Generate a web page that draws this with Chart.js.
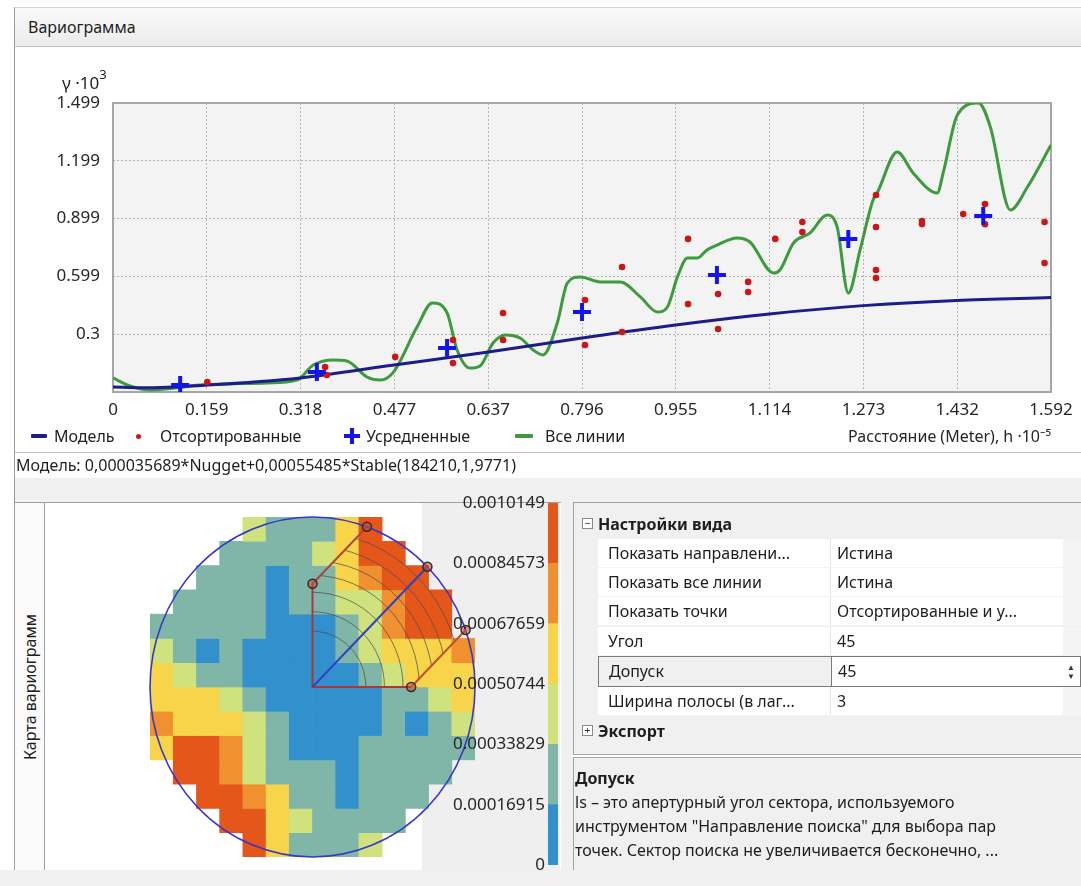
<!DOCTYPE html>
<html>
<head>
<meta charset="utf-8">
<script src="https://cdn.jsdelivr.net/npm/chart.js@4.4.1/dist/chart.umd.min.js"></script>
<style>
    body { margin: 0; width: 1081px; height: 886px; position: relative; overflow: hidden; background: #fff;
           font-family: "Noto Sans", "Segoe UI", sans-serif; color: #1e1e1e; }
    .abs { position: absolute; box-sizing: border-box; }
    #hdr { left: 14px; top: 7px; width: 1067px; height: 40px; background: linear-gradient(#fafafa, #ebebeb);
           border-top: 1px solid #d6d6d6; border-bottom: 1px solid #c2c2c2; border-left: 1px solid #9c9c9c;
           font-size: 16px; line-height: 38px; padding-left: 13px; }
    #topBorder { left: 14px; top: 47px; width: 1px; height: 431px; background: #9c9c9c; }
    #vario { left: 14px; top: 47px; }
    #gammaTitle { left: 62px; top: 66px; font-size: 17px; line-height: 22px; white-space: nowrap; }
    #gammaTitle sup { font-size: 13px; position: relative; top: -3px; }
    .lg { top: 425px; font-size: 16px; line-height: 22px; white-space: nowrap; }
    .lgDash { height: 4px; border-radius: 1px; }
    #modelRow { left: 14px; top: 452px; width: 1067px; height: 26px; border-top: 1px solid #bdbdbd;
                border-left: 1px solid #9c9c9c; font-size: 16px; line-height: 24px; padding-left: 1px; white-space: nowrap; }
    #band { left: 14px; top: 478px; width: 1067px; height: 25px; background: #f0f0f0; border-left: 1px solid #9c9c9c; }
    #bottomBand { left: 0; top: 870px; width: 1081px; height: 16px; background: #f0f0f0; }
    #mapPanel { left: 14px; top: 502px; width: 547px; height: 369px; border: 1px solid #a0a0a0; border-right: none; background: #fff; }
    #tab { left: 14px; top: 502px; width: 31px; height: 369px; border: 1px solid #a0a0a0; background: #fbfbfb; }
    #tabText { left: 14px; top: 502px; width: 31px; height: 369px; }
    #tabText span { position: absolute; left: 50%; top: 50%; transform: translate(-50%, -50%) rotate(-90deg);
                    font-size: 16px; white-space: nowrap; }
    #map { left: 44px; top: 503px; }
    #scale { left: 420px; top: 490px; z-index: 2; }
    #splitter { left: 561px; top: 478px; width: 12px; height: 392px; background: #f0f0f0; }
    #props { left: 573px; top: 502px; width: 508px; height: 368px; border-left: 1px solid #a0a0a0; border-top: 1px solid #a0a0a0; background: #f0f0f0; }
    .cat { left: 573px; height: 30px; width: 508px; font-size: 16px; font-weight: bold; line-height: 30px; padding-left: 25px; white-space: nowrap; }
    .box { left: 582px; width: 11px; height: 11px; border: 1px solid #8a8a8a; background: #fff; font-size: 11px; line-height: 8px; text-align: center; color: #333; }
    .row { left: 598px; height: 29px; width: 483px; background: #fff; border-bottom: 1px solid #f3f3f3; font-size: 16px; line-height: 28px; white-space: nowrap; }
    .row .n { position: absolute; left: 10px; }
    .row .v { position: absolute; left: 239px; }
    .row .div { position: absolute; left: 232px; top: 0; width: 1px; height: 100%; background: #e4e4e4; }
    .row .end { position: absolute; left: 465px; top: 0; width: 18px; height: 100%; background: #f4f4f4; }
    .sel { border: 1px solid #7a7a7a; background: #f0f0f0; }
    .sel .val { position: absolute; left: 232px; top: 0; right: 0; height: 100%; background: #fff; border-left: 1px solid #7a7a7a; }
    #sep { left: 573px; top: 754px; width: 508px; height: 4px; border-top: 1px solid #a8a8a8; border-bottom: 1px solid #a8a8a8; background: #fff; }
    #desc { left: 575px; top: 766px; font-size: 16px; line-height: 24px; white-space: nowrap; }
</style>
</head>
<body>
<div class="abs" id="hdr">Вариограмма</div>
<div class="abs" id="topBorder"></div>
<canvas class="abs" id="vario" width="1067" height="406"></canvas>
<div class="abs" id="gammaTitle">γ ·10<sup>3</sup></div>

<div class="abs lgDash" style="left:31px; top:434px; width:16px; background:#1c1c8c;"></div>
<div class="abs lg" style="left:54px;">Модель</div>
<div class="abs" style="left:136px; top:434px; width:5px; height:5px; border-radius:50%; background:#cc1616;"></div>
<div class="abs lg" style="left:160px;">Отсортированные</div>
<div class="abs" style="left:344px; top:434px; width:16px; height:4px; background:#1414f0;"></div>
<div class="abs" style="left:350px; top:428px; width:4px; height:16px; background:#1414f0;"></div>
<div class="abs lg" style="left:366px;">Усредненные</div>
<div class="abs lgDash" style="left:515px; top:434px; width:18px; background:#3d9a3d;"></div>
<div class="abs lg" style="left:545px;">Все линии</div>

<div class="abs" id="modelRow">Модель: 0,000035689*Nugget+0,00055485*Stable(184210,1,9771)</div>
<div class="abs" id="band"></div>

<div class="abs" id="mapPanel"></div>
<div class="abs" id="tab"></div>
<div class="abs" id="tabText"><span>Карта вариограмм</span></div>
<canvas class="abs" id="map" width="516" height="367"></canvas>
<div class="abs" id="splitter"></div>

<div class="abs" id="props"></div>
<div class="abs cat" style="top:509px;">Настройки вида</div>
<div class="abs box" style="top:518px;">−</div>
<div class="abs row" style="top:539px;"><span class="n">Показать направлени...</span><span class="div"></span><span class="v">Истина</span><span class="end"></span></div>
<div class="abs row" style="top:568px;"><span class="n">Показать все линии</span><span class="div"></span><span class="v">Истина</span><span class="end"></span></div>
<div class="abs row" style="top:597px;"><span class="n">Показать точки</span><span class="div"></span><span class="v">Отсортированные и у...</span><span class="end"></span></div>
<div class="abs row" style="top:627px;"><span class="n">Угол</span><span class="div"></span><span class="v">45</span><span class="end"></span></div>
<div class="abs row sel" style="top:656px; height:31px;"><span class="val"></span><span class="n">Допуск</span><span class="v">45</span>
    <span style="position:absolute; right:5px; top:5px; font-size:8px; line-height:9px; color:#333;">▲<br>▼</span></div>
<div class="abs row" style="top:687px;"><span class="n">Ширина полосы (в лаг...</span><span class="div"></span><span class="v">3</span><span class="end"></span></div>
<div class="abs cat" style="top:716px;">Экспорт</div>
<div class="abs box" style="top:725px;">+</div>
<div class="abs" id="sep"></div>
<div class="abs" id="desc"><b>Допуск</b><br>ls – это апертурный угол сектора, используемого<br>инструментом "Направление поиска" для выбора пар<br>точек. Сектор поиска не увеличивается бесконечно, ...</div>
<div class="abs" id="bottomBand"></div>
<canvas class="abs" id="scale" width="140" height="388"></canvas>

<script>
// Axis ticks (h · 10^-5 along x, γ · 10^3 along y)
const xTicks = [0, 0.1592, 0.3184, 0.4776, 0.6368, 0.796, 0.9552, 1.1144, 1.2736, 1.4328, 1.592];
const xTickLabels = ['0', '0.159', '0.318', '0.477', '0.637', '0.796', '0.955', '1.114', '1.273', '1.432', '1.592'];
const yTicks = [0, 0.2998, 0.5996, 0.8994, 1.1992, 1.499];
const yTickLabels = ['0', '0.3', '0.599', '0.899', '1.199', '1.499'];

// Fitted model curve
const modelH = [0, 0.05, 0.16, 0.318, 0.477, 0.637, 0.796, 0.955, 1.114, 1.273, 1.432, 1.592];
const modelGamma = [0.026, 0.022, 0.036, 0.073, 0.14, 0.207, 0.28, 0.348, 0.405, 0.448, 0.475, 0.49];

// "All lines" empirical curve
const allLinesH = [0, 0.029, 0.063, 0.105, 0.148, 0.261, 0.312, 0.34, 0.374, 0.397,
    0.431, 0.453, 0.475, 0.516, 0.542, 0.567, 0.584, 0.606, 0.623, 0.645,
    0.666, 0.691, 0.713, 0.73, 0.754, 0.771, 0.793, 0.827, 0.861, 0.895,
    0.924, 0.941, 0.958, 0.975, 0.992, 1.008, 1.025, 1.059, 1.081, 1.121,
    1.132, 1.155, 1.183, 1.212, 1.229, 1.248, 1.268, 1.29, 1.297, 1.331,
    1.358, 1.399, 1.409, 1.433, 1.469, 1.489, 1.523, 1.552, 1.592];
const allLinesGamma = [0.073, 0.031, 0.010, 0.021, 0.036, 0.047, 0.062, 0.140, 0.166, 0.161,
    0.078, 0.062, 0.099, 0.337, 0.462, 0.410, 0.218, 0.124, 0.135, 0.254,
    0.296, 0.280, 0.218, 0.192, 0.358, 0.565, 0.597, 0.571, 0.571, 0.493,
    0.415, 0.441, 0.597, 0.695, 0.695, 0.737, 0.762, 0.799, 0.778, 0.617,
    0.633, 0.773, 0.825, 0.918, 0.856, 0.513, 0.737, 0.996, 1.032, 1.245,
    1.136, 1.032, 1.136, 1.437, 1.499, 1.375, 0.944, 1.063, 1.281];

// Sorted pair values
const sortedH = [0.16, 0.36, 0.363, 0.479, 0.577, 0.577, 0.662, 0.662, 0.801, 0.801,
    0.864, 0.864, 0.976, 0.976, 1.027, 1.027, 1.078, 1.078, 1.124, 1.17,
    1.17, 1.295, 1.295, 1.295, 1.295, 1.373, 1.373, 1.443, 1.48, 1.48, 1.581, 1.581];
const sortedGamma = [0.052, 0.13, 0.088, 0.182, 0.27, 0.15, 0.41, 0.27, 0.477, 0.244,
    0.648, 0.311, 0.794, 0.456, 0.508, 0.327, 0.571, 0.519, 0.794, 0.882,
    0.83, 1.022, 0.856, 0.633, 0.591, 0.887, 0.871, 0.923, 0.975, 0.87, 0.882, 0.669];

// Averaged (binned) values
const averagedH = [0.114, 0.346, 0.567, 0.796, 1.025, 1.248, 1.477];
const averagedGamma = [0.036, 0.104, 0.228, 0.415, 0.607, 0.794, 0.913];

// Variogram map: one string per row, one class digit per cell, '.' = no data
const mapRows = [
    '....211135....',
    '...11112355...',
    '..1110113455..',
    '.111101122455.',
    '1111100012455.',
    '21010000123334',
    '32110000012333',
    '33321000001123',
    '43332100001012',
    '35542100011111',
    '.554211101111.',
    '..5543110111..',
    '...55321111...',
    '....531112....'
];
const classBounds = [0, 0.00016915, 0.00033829, 0.00050744, 0.00067659, 0.00084573, 0.0010149];
const classLabels = ['0', '0.00016915', '0.00033829', '0.00050744', '0.00067659', '0.00084573', '0.0010149'];
const classColors = ['#3290cd', '#80b6a7', '#cfe27d', '#f7d449', '#f0902f', '#e5561a'];

const FONT = { family: '"Noto Sans", sans-serif', size: 17 };
const TEXT = '#262626';

const zip = (xs, ys) => xs.map((x, i) => ({ x, y: ys[i] }));

// Grey plot background and solid frame
const plotFrame = {
    id: 'plotFrame',
    beforeDraw(chart) {
        const { ctx, chartArea: a } = chart;
        ctx.save();
        ctx.fillStyle = '#f3f3f3';
        ctx.fillRect(a.left, a.top, a.width, a.height);
        ctx.restore();
    },
    beforeDatasetsDraw(chart) {
        const { ctx, chartArea: a } = chart;
        ctx.save();
        ctx.strokeStyle = '#a6a6a6';
        ctx.lineWidth = 2;
        ctx.strokeRect(a.left, a.top, a.width, a.height);
        ctx.restore();
    }
};

new Chart(document.getElementById('vario'), {
    type: 'scatter',
    data: {
        datasets: [
            {
                label: 'Усредненные',
                data: zip(averagedH, averagedGamma),
                pointStyle: 'cross',
                pointRadius: 9,
                borderWidth: 4,
                borderColor: '#1414f0',
                backgroundColor: '#1414f0',
                order: 1
            },
            {
                label: 'Отсортированные',
                data: zip(sortedH, sortedGamma),
                pointStyle: 'circle',
                pointRadius: 3.3,
                borderWidth: 0,
                backgroundColor: '#cc1616',
                order: 2
            },
            {
                label: 'Модель',
                data: zip(modelH, modelGamma),
                showLine: true,
                borderColor: '#1c1c8c',
                borderWidth: 3,
                pointRadius: 0,
                cubicInterpolationMode: 'monotone',
                order: 3
            },
            {
                label: 'Все линии',
                data: zip(allLinesH, allLinesGamma),
                showLine: true,
                borderColor: '#3d9a3d',
                borderWidth: 3,
                pointRadius: 0,
                cubicInterpolationMode: 'monotone',
                order: 4
            }
        ]
    },
    options: {
        responsive: false,
        animation: false,
        devicePixelRatio: 1,
        layout: { padding: { left: 0, right: 30, top: 56, bottom: 0 } },
        plugins: { legend: { display: false }, tooltip: { enabled: false } },
        scales: {
            x: {
                type: 'linear',
                min: 0,
                max: 1.592,
                afterBuildTicks: s => { s.ticks = xTicks.map(v => ({ value: v })); },
                afterFit: s => { s.height = 61; s.paddingLeft = 0; s.paddingRight = 0; },
                ticks: {
                    callback: (v, i) => xTickLabels[i],
                    autoSkip: false,
                    maxRotation: 0,
                    padding: 8,
                    font: FONT,
                    color: TEXT
                },
                grid: { color: '#b4b4b4', lineWidth: 1, drawTicks: false },
                border: { display: false, dash: [2, 2] },
                title: {
                    display: true,
                    text: 'Расстояние (Meter), h ·10⁻⁵',
                    align: 'end',
                    font: { family: FONT.family, size: 16 },
                    color: TEXT,
                    padding: { top: 0, bottom: 6 }
                }
            },
            y: {
                min: 0,
                max: 1.499,
                afterBuildTicks: s => { s.ticks = yTicks.map(v => ({ value: v })); },
                afterFit: s => { s.width = 99; s.paddingTop = 0; s.paddingBottom = 0; },
                ticks: {
                    callback: (v, i) => (i === 0 ? '' : yTickLabels[i]),
                    padding: 13,
                    font: FONT,
                    color: TEXT
                },
                grid: { color: '#b4b4b4', lineWidth: 1, drawTicks: false },
                border: { display: false, dash: [2, 2] }
            }
        }
    },
    plugins: [plotFrame]
});

// Search direction overlay on the variogram map
const mapOverlay = {
    id: 'mapOverlay',
    beforeDraw(chart) {
        const { ctx, width, height } = chart;
        ctx.save();
        ctx.fillStyle = '#efefef';
        ctx.fillRect(378, 0, width - 378, height);
        ctx.restore();
    },
    afterDatasetsDraw(chart) {
        const { ctx } = chart;
        const xs = chart.scales.x, ys = chart.scales.y;
        const cx = xs.getPixelForValue(6.5), cy = ys.getPixelForValue(7);
        const cw = xs.getPixelForValue(1) - xs.getPixelForValue(0);
        const rh = ys.getPixelForValue(1) - ys.getPixelForValue(0);
        const R = 7, arm = 4.25;
        const px = (u, v) => [cx + u * cw, cy - v * rh];

        // far end of the band lines on the circle
        const uu = (-2 * arm + Math.sqrt(4 * arm * arm - 8 * (arm * arm - R * R))) / 4;
        const farA = [arm + uu, uu], farB = [uu, arm + uu];
        const angA = -Math.atan2(farA[1], farA[0]), angB = -Math.atan2(farB[1], farB[0]);

        ctx.save();
        // lag arcs clipped to the search sector
        ctx.beginPath();
        ctx.moveTo(cx, cy);
        ctx.lineTo(...px(arm, 0));
        ctx.lineTo(...px(...farA));
        ctx.ellipse(cx, cy, R * cw, R * rh, 0, angA, angB, true);
        ctx.lineTo(...px(0, arm));
        ctx.closePath();
        ctx.save();
        ctx.clip();
        ctx.strokeStyle = 'rgba(80,80,80,0.75)';
        ctx.lineWidth = 1;
        [2.3, 3.1, 3.9, 4.6, 5.2, 5.8, 6.4].forEach(r => {
            ctx.beginPath();
            ctx.ellipse(cx, cy, r * cw, r * rh, 0, -Math.PI / 2 - 0.1, 0.1);
            ctx.stroke();
        });
        ctx.restore();

        // sector arms and band lines
        ctx.lineWidth = 2;
        ctx.strokeStyle = '#a8383a';
        ctx.beginPath();
        ctx.moveTo(...px(0, arm)); ctx.lineTo(cx, cy); ctx.lineTo(...px(arm, 0));
        ctx.stroke();
        ctx.strokeStyle = '#c4502e';
        ctx.beginPath(); ctx.moveTo(...px(arm, 0)); ctx.lineTo(...px(...farA)); ctx.stroke();
        ctx.strokeStyle = '#b04040';
        ctx.beginPath(); ctx.moveTo(...px(0, arm)); ctx.lineTo(...px(...farB)); ctx.stroke();
        // direction line
        ctx.strokeStyle = '#3040c8';
        ctx.beginPath(); ctx.moveTo(cx, cy); ctx.lineTo(...px(R * Math.SQRT1_2, R * Math.SQRT1_2)); ctx.stroke();

        // outline circle
        ctx.strokeStyle = '#3838c8';
        ctx.lineWidth = 1.6;
        ctx.beginPath();
        ctx.ellipse(cx, cy, R * cw, R * rh, 0, 0, Math.PI * 2);
        ctx.stroke();

        // handles
        ctx.lineWidth = 1.5;
        ctx.strokeStyle = '#3a2626';
        [[arm, 0], [0, arm], farA, farB, [R * Math.SQRT1_2, R * Math.SQRT1_2]].forEach(p => {
            ctx.beginPath();
            ctx.arc(...px(...p), 4.5, 0, Math.PI * 2);
            ctx.fillStyle = 'rgba(190,80,60,0.55)';
            ctx.fill();
            ctx.stroke();
        });
        ctx.restore();
    }
};

new Chart(document.getElementById('map'), {
    type: 'bar',
    data: {
        labels: mapRows[0].split('').map((_, i) => i),
        datasets: mapRows.map((row, r) => ({
            data: row.split('').map(ch => (ch === '.' ? null : [r, r + 1])),
            backgroundColor: row.split('').map(ch => (ch === '.' ? 'transparent' : classColors[+ch])),
            borderWidth: 0,
            grouped: false,
            barPercentage: 1,
            categoryPercentage: 1
        }))
    },
    options: {
        responsive: false,
        animation: false,
        devicePixelRatio: 1,
        layout: { padding: { left: 106, right: 85, top: 14, bottom: 13 } },
        plugins: { legend: { display: false }, tooltip: { enabled: false } },
        scales: {
            x: { display: false, offset: true },
            y: { display: false, min: 0, max: 14, reverse: true }
        }
    },
    plugins: [mapOverlay]
});

// Colour scale of the map
new Chart(document.getElementById('scale'), {
    type: 'bar',
    data: {
        labels: [''],
        datasets: classColors.map((c, i) => ({
            data: [[classBounds[i], classBounds[i + 1]]],
            backgroundColor: c,
            borderWidth: 0,
            grouped: false,
            barPercentage: 1,
            categoryPercentage: 1
        }))
    },
    options: {
        responsive: false,
        animation: false,
        devicePixelRatio: 1,
        layout: { padding: { left: 0, right: 2, top: 13, bottom: 13 } },
        plugins: { legend: { display: false }, tooltip: { enabled: false } },
        scales: {
            x: { display: false },
            y: {
                min: 0,
                max: classBounds[classBounds.length - 1],
                afterBuildTicks: s => { s.ticks = classBounds.map(v => ({ value: v })); },
                afterFit: s => { s.width = 128; s.paddingTop = 0; s.paddingBottom = 0; },
                ticks: { callback: (v, i) => classLabels[i], padding: 3, font: FONT, color: TEXT },
                grid: { display: false, drawTicks: false },
                border: { display: false }
            }
        }
    }
});
</script>
</body>
</html>
